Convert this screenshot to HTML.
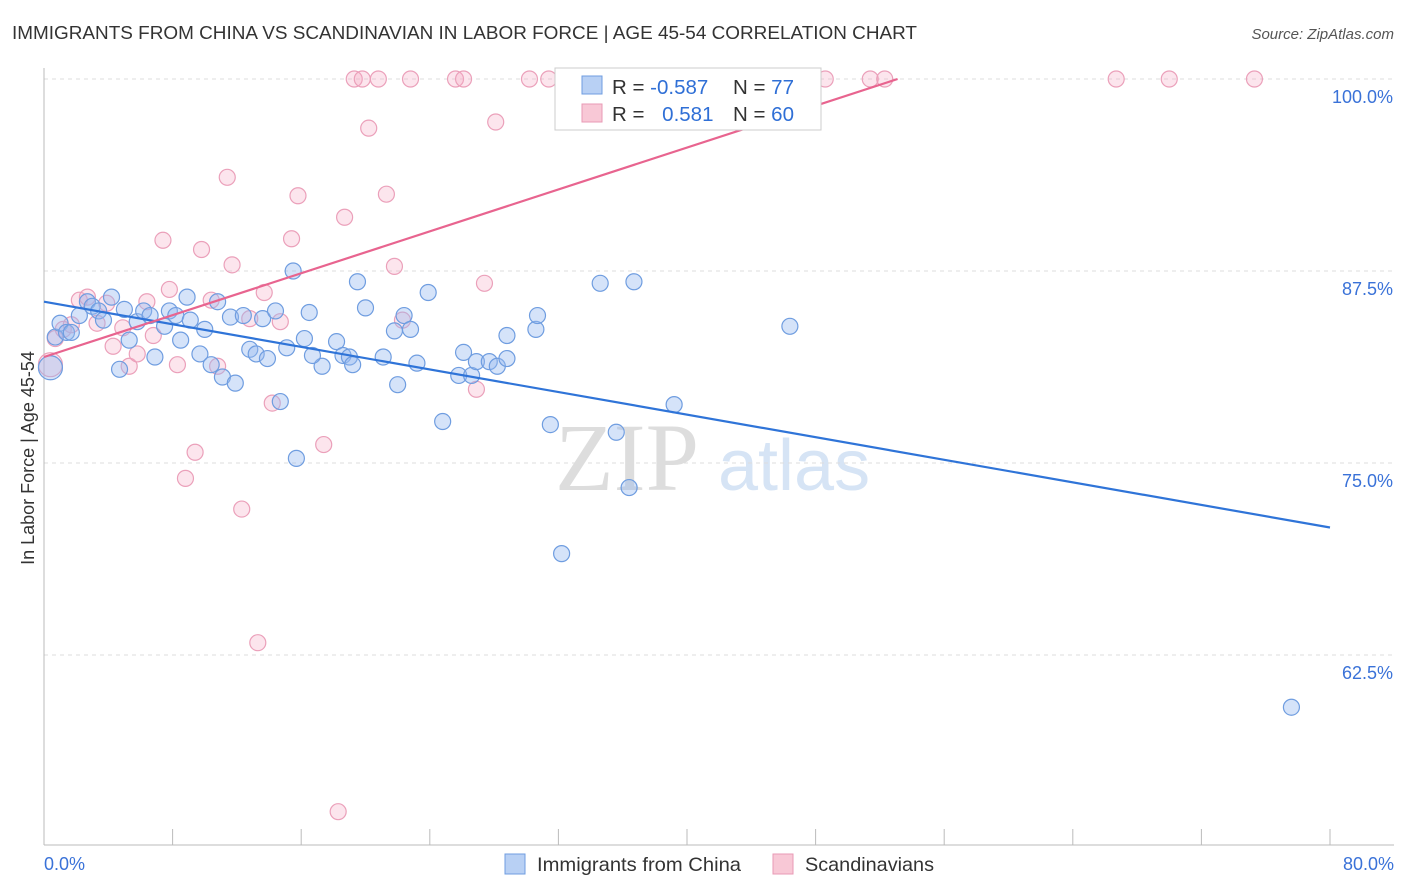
<!DOCTYPE html>
<html><head><meta charset="utf-8"><style>
body{margin:0;background:#fff;font-family:"Liberation Sans",sans-serif}
svg{display:block}
</style></head><body>
<svg id="chart" width="1406" height="892" viewBox="0 0 1406 892">
<text x="12" y="39" font-size="18" fill="#333" textLength="905" lengthAdjust="spacingAndGlyphs">IMMIGRANTS FROM CHINA VS SCANDINAVIAN IN LABOR FORCE | AGE 45-54 CORRELATION CHART</text>
<text x="1394" y="39" font-size="15" fill="#555" text-anchor="end" font-style="italic">Source: ZipAtlas.com</text>
<text x="555" y="490" font-size="96" fill="#ddd" font-family="Liberation Serif,serif">ZIP</text>
<text x="718" y="490" font-size="72" fill="#d6e4f5">atlas</text>
<g id="grid"></g><g id="axes"></g><g id="pts"></g><g id="lines"></g>
<text transform="translate(34,458) rotate(-90)" font-size="18" fill="#333" text-anchor="middle">In Labor Force | Age 45-54</text>
<g>
<rect x="555" y="68" width="266" height="62" fill="#fff" stroke="#ccc"/>
<rect x="582" y="76" width="20" height="18" fill="#b8d0f4" stroke="#6f9de0"/>
<rect x="582" y="104" width="20" height="18" fill="#f8c8d6" stroke="#e89ab5"/>
<text x="612" y="94" font-size="20.5" fill="#333">R = <tspan fill="#2f6fd6">-0.587</tspan></text>
<text x="733" y="94" font-size="20.5" fill="#333">N = <tspan fill="#2f6fd6">77</tspan></text>
<text x="612" y="121" font-size="20.5" fill="#333">R = <tspan fill="#2f6fd6" dx="12">0.581</tspan></text>
<text x="733" y="121" font-size="20.5" fill="#333">N = <tspan fill="#2f6fd6">60</tspan></text>
</g>
<g>
<rect x="505" y="854" width="20" height="20" fill="#b8d0f4" stroke="#6f9de0"/>
<text x="537" y="871" font-size="19.5" fill="#333" textLength="204" lengthAdjust="spacingAndGlyphs">Immigrants from China</text>
<rect x="773" y="854" width="20" height="20" fill="#f8c8d6" stroke="#e89ab5"/>
<text x="805" y="871" font-size="19.5" fill="#333" textLength="129" lengthAdjust="spacingAndGlyphs">Scandinavians</text>
</g>
</svg>
<script>
const yTicks=[100,87.5,75,62.5];
const yTickLabels=["100.0%","87.5%","75.0%","62.5%"];
const xTickLabels=["0.0%","80.0%"];
const chinaX=[0.4,0.7,1.0,1.4,1.7,2.2,2.7,3.0,3.4,3.7,4.2,4.7,5.0,5.3,5.8,6.2,6.6,6.9,7.5,7.8,8.2,8.5,8.9,9.1,9.7,10.0,10.4,10.8,11.1,11.6,11.9,12.4,12.8,13.2,13.6,13.9,14.4,14.7,15.1,15.5,15.7,16.2,16.5,17.3,16.7,18.2,18.6,19.0,19.5,19.2,20.0,21.1,21.8,22.0,22.4,22.8,23.2,23.9,24.8,25.8,26.1,26.6,26.9,27.7,28.2,28.8,28.8,30.6,30.7,31.5,32.2,34.6,35.6,36.4,36.7,39.2,46.4,77.6];
const chinaY=[81.2,83.2,84.1,83.5,83.5,84.6,85.5,85.2,84.9,84.3,85.8,81.1,85.0,83.0,84.2,84.9,84.6,81.9,83.9,84.9,84.6,83.0,85.8,84.3,82.1,83.7,81.4,85.5,80.6,84.5,80.2,84.6,82.4,82.1,84.4,81.8,84.9,79.0,82.5,87.5,75.3,83.1,84.8,81.3,82.0,82.9,82.0,81.9,86.8,81.4,85.1,81.9,83.6,80.1,84.6,83.7,81.5,86.1,77.7,80.7,82.2,80.7,81.6,81.6,81.3,81.8,83.3,83.7,84.6,77.5,69.1,86.7,77.0,73.4,86.8,78.8,83.9,59.1];
const scanX=[0.4,0.7,1.2,1.7,2.2,2.7,3.3,3.9,4.3,4.9,5.3,5.8,6.4,6.8,7.4,7.8,8.3,8.8,9.4,9.8,10.4,10.8,11.4,11.7,12.3,12.8,13.3,13.7,14.2,14.7,15.4,15.8,17.4,18.3,18.7,19.3,19.8,20.2,20.8,21.3,21.8,22.3,22.8,25.6,26.1,26.9,27.4,28.1,30.2,31.4,33.0,34.8,38.0,42.1,44.5,48.6,51.4,52.3,66.7,70.0,75.3];
const scanY=[81.4,83.1,83.7,84.0,85.6,85.8,84.1,85.4,82.6,83.8,81.3,82.1,85.5,83.3,89.5,86.3,81.4,74.0,75.7,88.9,85.6,81.3,93.6,87.9,72.0,84.4,63.3,86.1,78.9,84.2,89.6,92.4,76.2,52.3,91.0,100,100,96.8,100,92.5,87.8,84.3,100,100,100,79.8,86.7,97.2,100,100,100,100,100,100,100,100,100,100,100,100,100];
const chinaLine=[85.5,70.8];
const scanLine=[81.9,100,53.1];
const NS="http://www.w3.org/2000/svg";
const X=v=>44+v/80*1286, Y=v=>79+(100-v)/12.5*192;
function mk(t,a,p){const e=document.createElementNS(NS,t);for(const k in a)e.setAttribute(k,a[k]);p.appendChild(e);return e;}
const grid=document.getElementById('grid'),axes=document.getElementById('axes'),pts=document.getElementById('pts'),lines=document.getElementById('lines');
yTicks.forEach((t,i)=>{
 const g=mk('line',{x1:44,x2:1394,y1:Y(t),y2:Y(t),stroke:'#ddd','stroke-dasharray':'4,4'},grid);
 
 
 const l=mk('text',{x:1393,y:Y(t)+24,'font-size':18,fill:'#3a72d8','text-anchor':'end'},axes);
 l.textContent=yTickLabels[i];
 
 
});
const ya=mk('line',{x1:44,x2:44,y1:68,y2:845,stroke:'#bbb'},axes);


const xa=mk('line',{x1:44,x2:1394,y1:845,y2:845,stroke:'#bbb'},axes);


for(let i=0;i<=10;i++){const tk=mk('line',{x1:X(i*8),x2:X(i*8),y1:829,y2:845,stroke:'#bbb'},axes);
 
 }
[[0,44,'start'],[80,1394,'end']].forEach((d,i)=>{const l=mk('text',{x:d[1],y:870,'font-size':18,fill:'#3a72d8','text-anchor':d[2]},axes);l.textContent=xTickLabels[i];
 
 });
scanX.forEach((x,i)=>{const c=mk('circle',{cx:X(x),cy:Y(scanY[i]),r:i==0?12:8,fill:'rgba(244,170,195,0.3)',stroke:'#eba0ba','stroke-width':1.2},pts);
 
 });
chinaX.forEach((x,i)=>{const c=mk('circle',{cx:X(x),cy:Y(chinaY[i]),r:i==0?12:8,fill:'rgba(150,185,240,0.4)',stroke:'#6f9de0','stroke-width':1.2},pts);
 
 });
const bl=mk('line',{x1:X(0),y1:Y(chinaLine[0]),x2:X(80),y2:Y(chinaLine[1]),stroke:'#2f74d8','stroke-width':2.2},lines);


const pl=mk('line',{x1:X(0),y1:Y(scanLine[0]),x2:X(scanLine[2]),y2:Y(scanLine[1]),stroke:'#e8648f','stroke-width':2.2},lines);


</script>
</body></html>
